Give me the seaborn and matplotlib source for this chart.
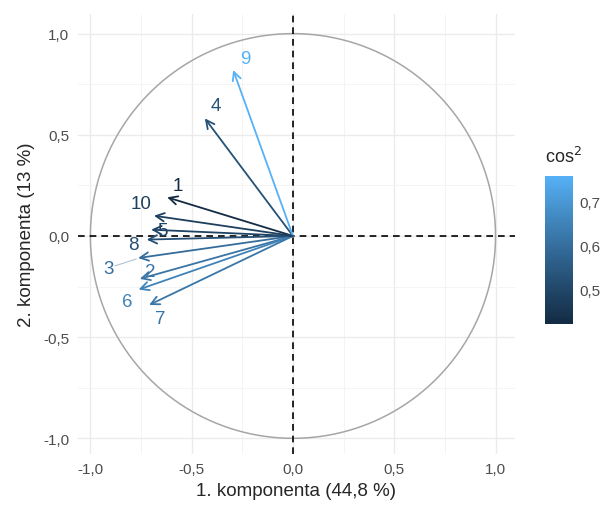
import numpy as np
import matplotlib
matplotlib.use('Agg')
import matplotlib.pyplot as plt
from matplotlib.colors import LinearSegmentedColormap, Normalize
import seaborn as sns

# variable coordinates on the first two components
variables = ['1', '2', '3', '4', '5', '6', '7', '8', '9', '10']
dim1 = [-0.621, -0.756, -0.764, -0.435, -0.700, -0.762, -0.710, -0.722, -0.295, -0.686]
dim2 = [0.191, -0.212, -0.109, 0.581, 0.031, -0.265, -0.341, -0.018, 0.820, 0.100]

# where the repelled labels ended up (offset from arrow tip, data units)
label_dx = [0.053, 0.050, -0.145, 0.055, 0.058, -0.058, 0.053, -0.068, 0.060, -0.064]
label_dy = [0.056, 0.034, -0.054, 0.066, -0.006, -0.061, -0.069, -0.026, 0.056, 0.058]

cos2 = np.array(dim1) ** 2 + np.array(dim2) ** 2

sns.set_style('whitegrid')
plt.rcParams['font.family'] = ['Liberation Sans', 'DejaVu Sans']

fig = plt.figure(figsize=(6.08, 5.06), dpi=100)
ax = fig.add_axes([0.128, 0.101, 0.719, 0.869])

# ggplot default continuous scale (dark navy -> light blue, Lab-like steps)
cmap = LinearSegmentedColormap.from_list(
    'ggblue', ['#132B43', '#22496C', '#336A98', '#448DC6', '#56B1F7'])
norm = Normalize(vmin=cos2.min(), vmax=cos2.max())

# unit circle
theta = np.linspace(0, 2 * np.pi, 361)
sns.lineplot(x=np.cos(theta), y=np.sin(theta), sort=False, estimator=None,
             color='#A6A6A6', linewidth=1.1, ax=ax)

ax.axhline(0, color='black', linestyle=(0, (4, 3)), linewidth=1.2, zorder=2)
ax.axvline(0, color='black', linestyle=(0, (4, 3)), linewidth=1.2, zorder=2)

for name, x, y, dx, dy, c in zip(variables, dim1, dim2, label_dx, label_dy, cos2):
    col = cmap(norm(c))
    ax.annotate('', xy=(x, y), xytext=(0, 0),
                arrowprops=dict(arrowstyle='->,head_length=0.6,head_width=0.3',
                                color=col, lw=1.3, shrinkA=0, shrinkB=0),
                zorder=3)
    if name == '3':
        ax.plot([x + dx + 0.03, x - 0.01], [y + dy + 0.015, y - 0.005],
                color=col, alpha=0.4, lw=0.8, zorder=3)
    ax.text(x + dx, y + dy, name, color=col, fontsize=13.5,
            ha='center', va='center', zorder=4)

ax.set_xlim(-1.062, 1.096)
ax.set_ylim(-1.077, 1.096)
ticks = [-1.0, -0.5, 0.0, 0.5, 1.0]
tick_labels = ['-1,0', '-0,5', '0,0', '0,5', '1,0']
ax.set_xticks(ticks)
ax.set_xticklabels(tick_labels)
ax.set_yticks(ticks)
ax.set_yticklabels(tick_labels)
ax.set_xticks([-0.75, -0.25, 0.25, 0.75], minor=True)
ax.set_yticks([-0.75, -0.25, 0.25, 0.75], minor=True)
ax.grid(True, which='major', color='#EBEBEB', linewidth=1.0)
ax.grid(True, which='minor', color='#F3F3F3', linewidth=0.6)
ax.tick_params(axis='both', which='major', length=3, width=1.2, color='#333333',
               labelsize=11, labelcolor='#4D4D4D', pad=3)
ax.tick_params(axis='both', which='minor', length=0)
for s in ax.spines.values():
    s.set_visible(False)
ax.set_facecolor('white')

ax.set_xlabel('1. komponenta (44,8 %)', fontsize=13.5, labelpad=4)
ax.set_ylabel('2. komponenta (13 %)', fontsize=13.5, labelpad=6)

# colour bar for cos2
cax = fig.add_axes([0.896, 0.358, 0.046, 0.293])
sm = matplotlib.cm.ScalarMappable(norm=norm, cmap=cmap)
cb = fig.colorbar(sm, cax=cax)
cb.outline.set_visible(False)
cb.set_ticks([0.5, 0.6, 0.7])
cb.set_ticklabels(['0,5', '0,6', '0,7'])
cax.tick_params(left=True, right=True, direction='in', color='white', length=4,
                width=0.8, labelsize=11, labelcolor='#4D4D4D', pad=5)
cax.set_title('cos$^2$', fontsize=13, loc='left', pad=10)

fig.savefig('out.png', dpi=100, facecolor='white')
